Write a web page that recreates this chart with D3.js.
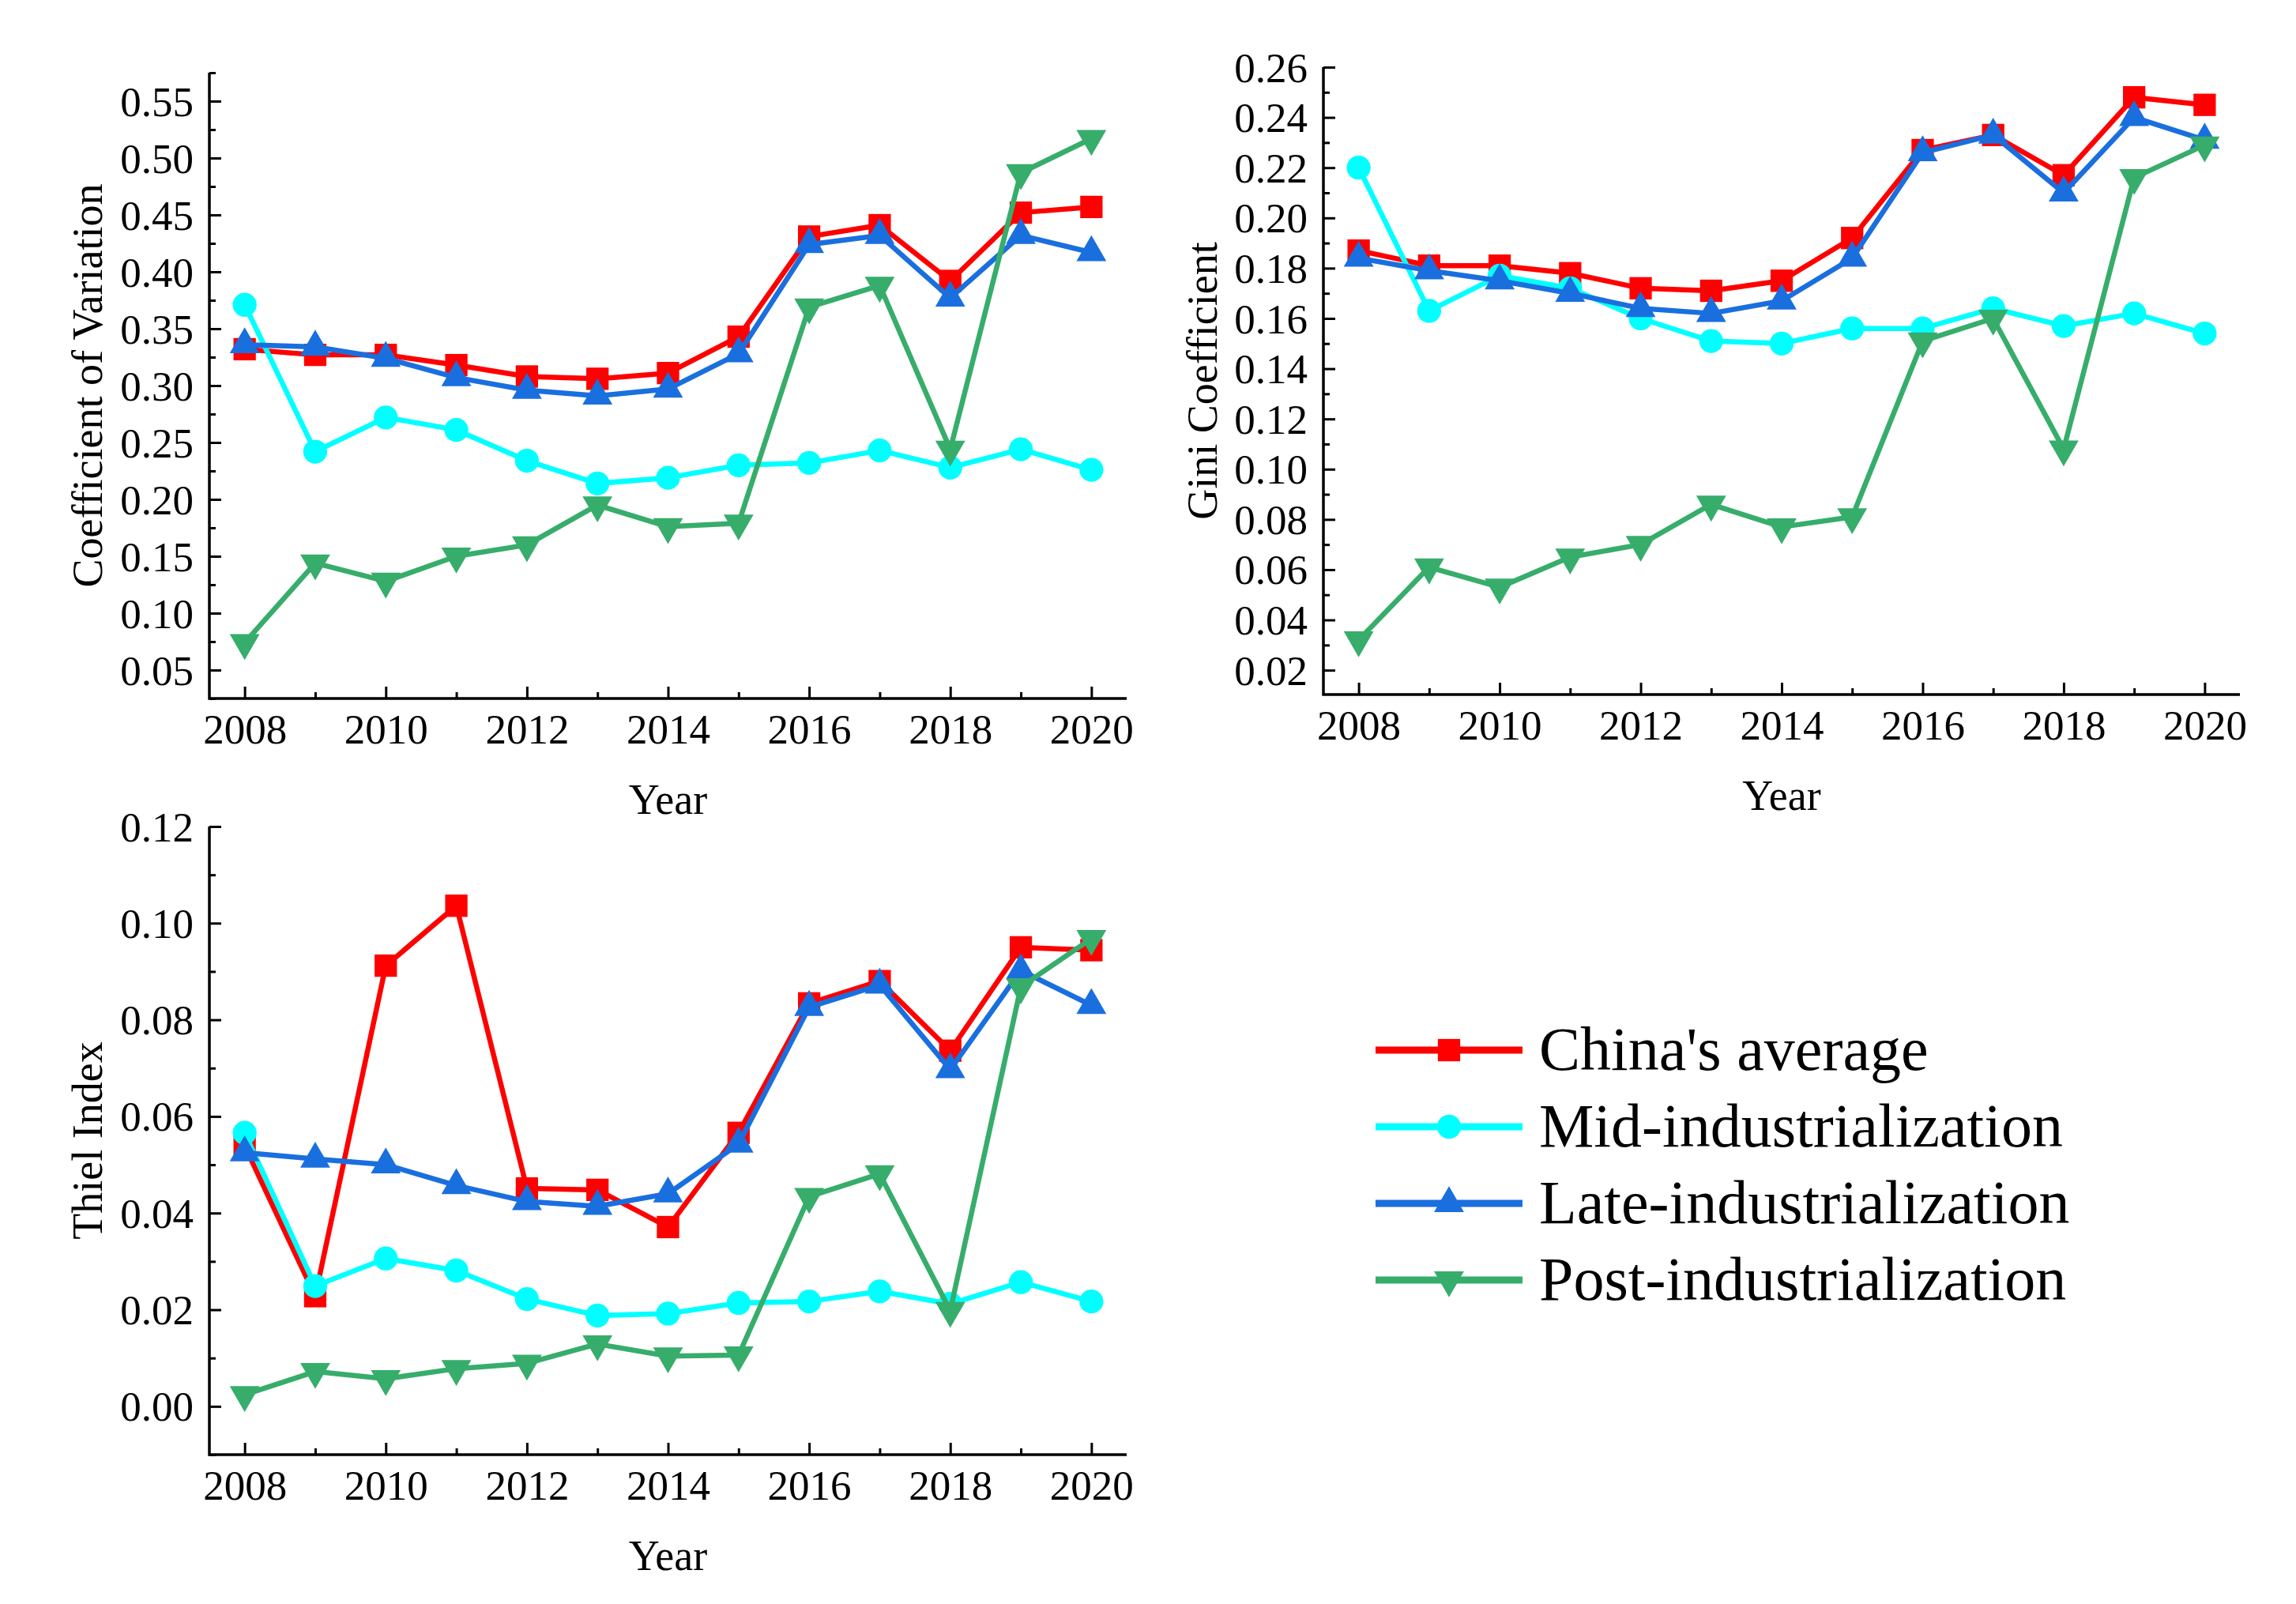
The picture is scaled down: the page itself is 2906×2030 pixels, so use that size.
<!DOCTYPE html>
<html>
<head>
<meta charset="utf-8">
<script src="https://cdn.jsdelivr.net/npm/d3@7"></script>
<style>
  body { margin: 0; background: #fff; }
  svg text { font-family: "Liberation Serif", "Times New Roman", serif; fill: #000; }
</style>
</head>
<body>
<svg id="chart" width="2906" height="2030"></svg>
<script>
// DATA: years and the four series for each index
const years = [2008, 2009, 2010, 2011, 2012, 2013, 2014, 2015, 2016, 2017, 2018, 2019, 2020];
const seriesNames = ["China's average", "Mid-industrialization", "Late-industrialization", "Post-industrialization"];

// Coefficient of Variation
const cvChina = [0.332, 0.327, 0.327, 0.318, 0.308, 0.306, 0.311, 0.343, 0.431, 0.441, 0.392, 0.452, 0.457];
const cvMid   = [0.371, 0.242, 0.272, 0.261, 0.234, 0.214, 0.219, 0.230, 0.232, 0.243, 0.228, 0.244, 0.226];
const cvLate  = [0.336, 0.334, 0.324, 0.307, 0.296, 0.291, 0.297, 0.328, 0.424, 0.432, 0.377, 0.432, 0.417];
const cvPost  = [0.074, 0.144, 0.128, 0.150, 0.160, 0.195, 0.176, 0.179, 0.369, 0.388, 0.244, 0.487, 0.517];

// Gini Coefficient
const giniChina = [0.187, 0.181, 0.181, 0.178, 0.172, 0.171, 0.175, 0.192, 0.227, 0.233, 0.217, 0.248, 0.245];
const giniMid   = [0.220, 0.163, 0.177, 0.172, 0.160, 0.151, 0.150, 0.156, 0.156, 0.164, 0.157, 0.162, 0.154];
const giniLate  = [0.184, 0.179, 0.175, 0.170, 0.164, 0.162, 0.167, 0.184, 0.226, 0.233, 0.210, 0.240, 0.231];
const giniPost  = [0.032, 0.061, 0.053, 0.065, 0.070, 0.086, 0.077, 0.081, 0.151, 0.160, 0.108, 0.216, 0.229];

// Thiel Index
const thielChina = [0.0539, 0.0228, 0.0912, 0.1036, 0.0451, 0.0448, 0.0371, 0.0566, 0.0834, 0.0880, 0.0736, 0.0950, 0.0944];
const thielMid   = [0.0566, 0.0249, 0.0306, 0.0281, 0.0222, 0.0188, 0.0192, 0.0214, 0.0217, 0.0238, 0.0212, 0.0257, 0.0217];
const thielLate  = [0.0525, 0.0512, 0.0500, 0.0457, 0.0424, 0.0414, 0.0440, 0.0543, 0.0826, 0.0872, 0.0697, 0.0902, 0.0830];
const thielPost  = [0.0024, 0.0072, 0.0057, 0.0078, 0.0089, 0.0129, 0.0104, 0.0106, 0.0434, 0.0481, 0.0198, 0.0868, 0.0968];

// Tick values
const xTicks = [2008, 2010, 2012, 2014, 2016, 2018, 2020];
const cvTicks = [0.05, 0.10, 0.15, 0.20, 0.25, 0.30, 0.35, 0.40, 0.45, 0.50, 0.55];
const giniTicks = [0.02, 0.04, 0.06, 0.08, 0.10, 0.12, 0.14, 0.16, 0.18, 0.20, 0.22, 0.24, 0.26];
const thielTicks = [0.00, 0.02, 0.04, 0.06, 0.08, 0.10, 0.12];

// STYLE
const serif = "'Liberation Serif', 'Times New Roman', serif";
const colors = ["#ff0000", "#00ffff", "#1a6fdf", "#37ad6b"];
const symbols = [d3.symbolSquare, d3.symbolCircle, d3.symbolTriangle, d3.symbolTriangle];
const symSizes = [800, 720, 620, 620];
const symRotate = [0, 0, 0, 180];

const svg = d3.select("#chart");

// Panel layout (pixel boxes)
const panels = [
  { box: { left: 265, right: 1426, top: 92, bottom: 884 }, yDomain: [0.025, 0.575], yTicks: cvTicks,
    minorStep: 0.025, title: "Coefficient of Variation", titleX: 129, data: [cvChina, cvMid, cvLate, cvPost] },
  { box: { left: 1675, right: 2835, top: 85, bottom: 879 }, yDomain: [0.0103, 0.26], yTicks: giniTicks,
    minorStep: 0.01, title: "Gini Coefficient", titleX: 1540, data: [giniChina, giniMid, giniLate, giniPost] },
  { box: { left: 265, right: 1426, top: 1046, bottom: 1841 }, yDomain: [-0.01, 0.12], yTicks: thielTicks,
    minorStep: 0.01, title: "Thiel Index", titleX: 129, data: [thielChina, thielMid, thielLate, thielPost] }
];

panels.forEach(p => {
  const b = p.box;
  const x = d3.scaleLinear().domain([2007.5, 2020.5]).range([b.left, b.right]);
  const y = d3.scaleLinear().domain(p.yDomain).range([b.bottom, b.top]);
  const g = svg.append("g");

  // minor ticks (inward)
  const yMinor = d3.range(Math.ceil(p.yDomain[0] / p.minorStep) * p.minorStep, p.yDomain[1] + 1e-9, p.minorStep)
    .filter(v => !p.yTicks.some(t => Math.abs(t - v) < 1e-9));
  g.append("g").attr("transform", `translate(${b.left},0)`)
    .call(d3.axisRight(y).tickValues(yMinor).tickSize(8).tickFormat(""))
    .call(a => a.select(".domain").remove())
    .selectAll("line").attr("stroke", "#000").attr("stroke-width", 3);
  g.append("g").attr("transform", `translate(0,${b.bottom})`)
    .call(d3.axisTop(x).tickValues(years.filter(v => v % 2 === 1)).tickSize(8).tickFormat(""))
    .call(a => a.select(".domain").remove())
    .selectAll("line").attr("stroke", "#000").attr("stroke-width", 3);

  // major ticks, inward, labels outside
  const yAxis = g.append("g").attr("transform", `translate(${b.left},0)`)
    .call(d3.axisRight(y).tickValues(p.yTicks).tickSize(15).tickFormat(d3.format(".2f")));
  yAxis.attr("font-family", serif).attr("font-size", 53);
  yAxis.select(".domain").remove();
  yAxis.selectAll("line").attr("stroke", "#000").attr("stroke-width", 3);
  yAxis.selectAll("text").attr("x", -20).attr("text-anchor", "end").attr("dy", "0.34em")
    .style("font-family", serif).style("font-size", "53px");

  const xAxis = g.append("g").attr("transform", `translate(0,${b.bottom})`)
    .call(d3.axisTop(x).tickValues(xTicks).tickSize(15).tickFormat(d3.format("d")));
  xAxis.attr("font-family", serif).attr("font-size", 53);
  xAxis.select(".domain").remove();
  xAxis.selectAll("line").attr("stroke", "#000").attr("stroke-width", 3);
  xAxis.selectAll("text").attr("y", 57).attr("dy", 0)
    .style("font-family", serif).style("font-size", "53px");

  // axis lines (left and bottom)
  g.append("path")
    .attr("d", `M${b.left},${b.top}V${b.bottom}H${b.right}`)
    .attr("fill", "none").attr("stroke", "#000").attr("stroke-width", 3.5);

  // titles
  g.append("text")
    .attr("transform", `translate(${p.titleX},${(b.top + b.bottom) / 2}) rotate(-90)`)
    .attr("text-anchor", "middle").style("font-size", "54px").text(p.title);
  g.append("text")
    .attr("x", (b.left + b.right) / 2).attr("y", b.bottom + 146)
    .attr("text-anchor", "middle").style("font-size", "54px").text("Year");

  // series
  const line = d3.line().x((d, i) => x(years[i])).y(d => y(d));
  p.data.forEach((vals, s) => {
    g.append("path").datum(vals)
      .attr("fill", "none").attr("stroke", colors[s]).attr("stroke-width", 6.5)
      .attr("stroke-linejoin", "round").attr("d", line);
    g.selectAll(null).data(vals).enter().append("path")
      .attr("d", d3.symbol().type(symbols[s]).size(symSizes[s]))
      .attr("transform", (d, i) => `translate(${x(years[i])},${y(d)}) rotate(${symRotate[s]})`)
      .attr("fill", colors[s]);
  });
});

// LEGEND
const legend = svg.append("g");
seriesNames.forEach((name, s) => {
  const cy = 1329 + s * 97;
  legend.append("line").attr("x1", 1741).attr("x2", 1927).attr("y1", cy).attr("y2", cy)
    .attr("stroke", colors[s]).attr("stroke-width", 9);
  legend.append("path")
    .attr("d", d3.symbol().type(symbols[s]).size(symSizes[s]))
    .attr("transform", `translate(1834,${cy}) rotate(${symRotate[s]})`)
    .attr("fill", colors[s]);
  legend.append("text").attr("x", 1948).attr("y", cy + 25)
    .style("font-size", "78px").text(name);
});
</script>
</body>
</html>
